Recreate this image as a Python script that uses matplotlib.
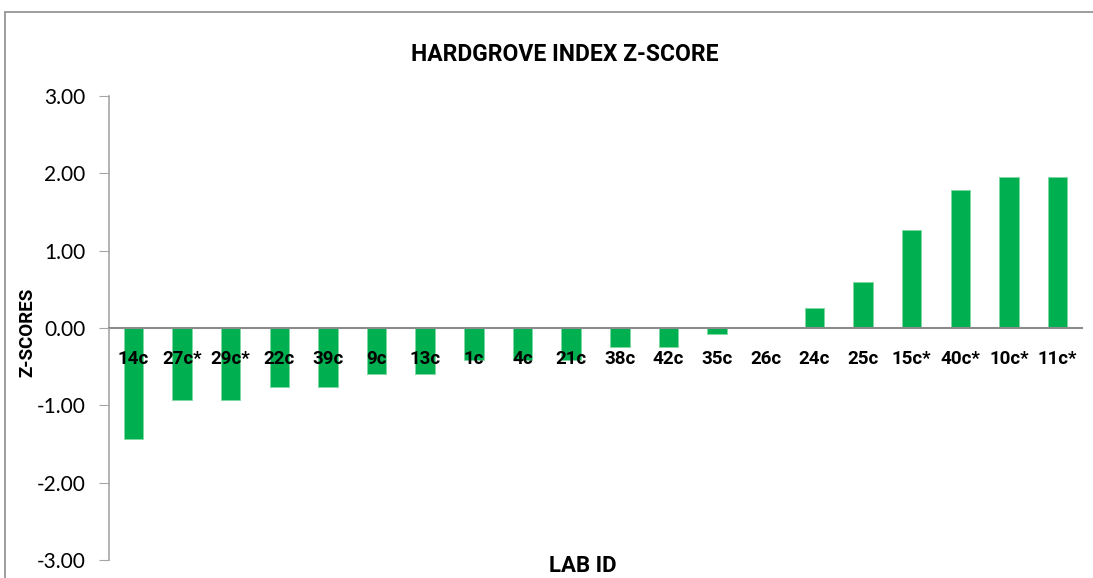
import matplotlib
matplotlib.use("Agg")
import matplotlib.pyplot as plt
from matplotlib.patches import Rectangle

labs = ["14c", "27c*", "29c*", "22c", "39c", "9c", "13c", "1c", "4c", "21c",
        "38c", "42c", "35c", "26c", "24c", "25c", "15c*", "40c*", "10c*", "11c*"]
zscores = [-1.44, -0.93, -0.93, -0.76, -0.76, -0.59, -0.59, -0.42, -0.42, -0.42,
           -0.25, -0.25, -0.08, 0.0, 0.26, 0.59, 1.27, 1.78, 1.95, 1.95]
yticks = [-3, -2, -1, 0, 1, 2, 3]

plt.rcParams['font.family'] = ['Lato', 'DejaVu Sans']
bold = ['Roboto', 'DejaVu Sans']

fig = plt.figure(figsize=(10.93, 5.78), dpi=100)
# outer chart border
fig.patches.append(Rectangle((5 / 1093, -0.01), 1.0, 1 - 12 / 578 + 0.01,
                             transform=fig.transFigure, fill=False,
                             edgecolor="#8c8c8c", linewidth=1.2))

ax = fig.add_axes([109 / 1093, 18 / 578, 973 / 1093, 464 / 578])
ax.set_axisbelow(False)
x = range(len(labs))
ax.bar(x, zscores, width=0.4, color="#00B050", edgecolor="#7ed9a0", linewidth=0.6, zorder=1)

ax.set_xlim(-0.5, len(labs) - 0.5)
ax.set_ylim(-3, 3)
ax.set_yticks(yticks)
ax.set_yticklabels([f"{v:.2f}" for v in yticks], fontsize=15)
ax.tick_params(axis="y", length=7, color="#a6a6a6", pad=10)

ax.spines['bottom'].set_position(('data', 0))
ax.spines['bottom'].set_color("#8c8c8c")
ax.spines['bottom'].set_linewidth(1.5)
ax.spines['left'].set_color("#a6a6a6")
ax.spines['left'].set_linewidth(1.2)
ax.spines['top'].set_visible(False)
ax.spines['right'].set_visible(False)

ax.set_xticks(list(x))
ax.set_xticklabels(labs, fontsize=13.5, fontweight="bold", family=bold)
ax.tick_params(axis="x", length=0, pad=16)

ax.set_title("HARDGROVE INDEX Z-SCORE", fontsize=16.5, fontweight="bold", family=bold,
             x=0.468, pad=25)
ax.set_ylabel("Z-SCORES", fontsize=13.5, fontweight="bold", family=bold)
ax.yaxis.set_label_coords(-0.084, 0.49)
ax.yaxis.label.set_va("center")
ax.set_xlabel("LAB ID", fontsize=16, fontweight="bold", family=bold)
ax.xaxis.set_label_coords(0.487, -0.014)
ax.xaxis.label.set_va("center")

fig.savefig("out.png", dpi=100)
